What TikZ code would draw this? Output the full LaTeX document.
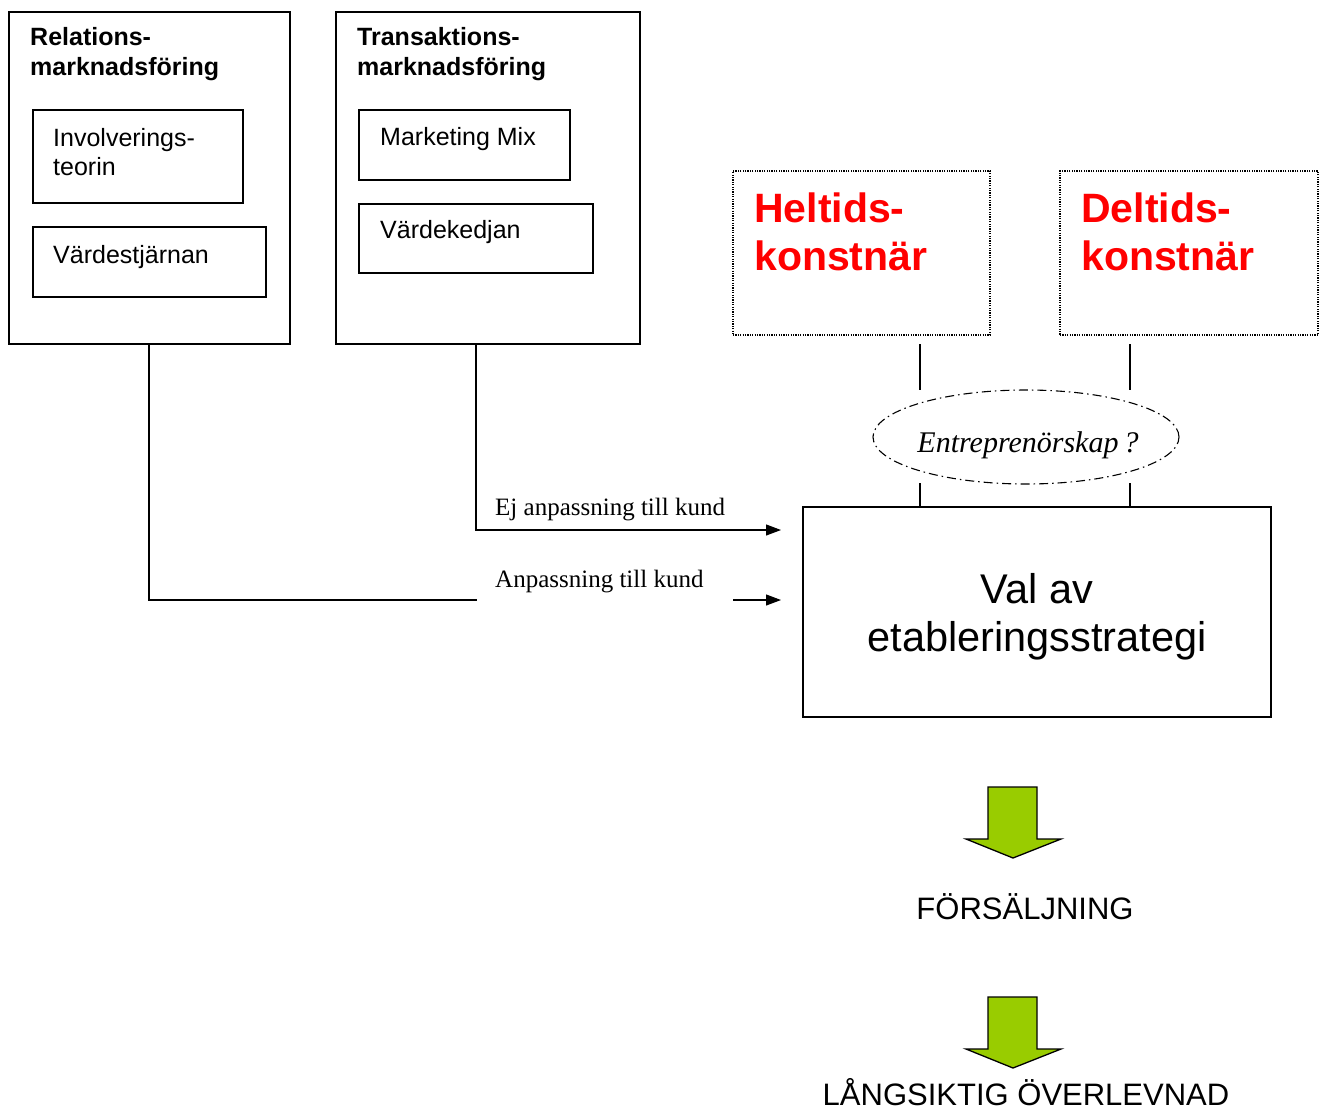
\documentclass[tikz,border=0pt]{standalone}
\usepackage{fontspec}
\setmainfont{Liberation Sans}
\newfontfamily\timesf{Liberation Serif}
\usetikzlibrary{arrows.meta,shapes.geometric,calc}
\definecolor{arrgreen}{HTML}{99CC00}
\begin{document}
\begin{tikzpicture}[x=1pt,y=-1pt,
  box/.style={draw,line width=1.4pt,rectangle,inner sep=0pt},
  dotbox/.style={draw,line width=1.3pt,dash pattern=on 1.2pt off 1.2pt,rectangle,inner sep=0pt},
  tb/.style={anchor=base west,inner sep=0pt,font=\fontsize{25}{30}\selectfont\bfseries,align=left},
  tn/.style={anchor=base west,inner sep=0pt,font=\fontsize{25}{29}\selectfont,align=left},
  tred/.style={anchor=base west,inner sep=0pt,font=\fontsize{41}{48}\selectfont\bfseries,text=red,align=left},
  lbl/.style={anchor=base west,inner sep=0pt,font=\timesf\fontsize{25}{28}\selectfont},
  conn/.style={line width=1.1pt},
  arr/.style={line width=1.1pt,-{Triangle[length=15pt,width=11pt]}},
  garrow/.style={fill=arrgreen,draw=black,line width=1.3pt,line join=miter}
]
\useasboundingbox (0,0) rectangle (1319,1109);
% left group
\node[box,minimum width=281pt,minimum height=332pt] (R) at (149.5,178) {};
\node[tb] (Rt) at (30,75) {Relations-\\marknadsföring};
\node[box,minimum width=210pt,minimum height=93pt] (I) at (138,156.5) {};
\node[tn] (It) at (53,175) {Involverings-\\teorin};
\node[box,minimum width=233pt,minimum height=70pt] (V) at (149.5,262) {};
\node[tn] (Vt) at (53,263) {Värdestjärnan};
% transaction group
\node[box,minimum width=304pt,minimum height=332pt] (T) at (488,178) {};
\node[tb] (Tt) at (357,75) {Transaktions-\\marknadsföring};
\node[box,minimum width=211pt,minimum height=70pt] (M) at (464.5,145) {};
\node[tn] (Mt) at (380,145) {Marketing Mix};
\node[box,minimum width=234pt,minimum height=69pt] (K) at (476,238.5) {};
\node[tn] (Kt) at (380,238) {Värdekedjan};
% artists
\node[dotbox,minimum width=257pt,minimum height=164pt] (H) at (861.5,253) {};
\node[tred] (Ht) at (754,270) {Heltids-\\konstnär};
\node[dotbox,minimum width=258pt,minimum height=164pt] (D) at (1189,253) {};
\node[tred] (Dt) at (1081,270) {Deltids-\\konstnär};
% ellipse
\node[ellipse,draw,line width=1.1pt,dash pattern=on 9pt off 4pt on 1.5pt off 4pt,minimum width=306pt,minimum height=94pt,inner sep=0pt] (E) at (1026,437) {};
\node[anchor=base,inner sep=0pt,font=\timesf\itshape\fontsize{30}{34}\selectfont] (Et) at (1028,452) {Entreprenörskap\,?};
% main box
\node[box,minimum width=468pt,minimum height=210pt] (S) at (1037,612) {};
\node[anchor=center,inner sep=0pt,align=center,font=\fontsize{41.5}{48}\selectfont] (St) at (1037,617) {Val av\\etableringsstrategi};
% vertical segments
\coordinate (h1) at (920,344); \coordinate (h2) at (920,390);
\coordinate (h3) at (920,483); \coordinate (h4) at (920,507);
\coordinate (d1) at (1130,344); \coordinate (d2) at (1130,390);
\coordinate (d3) at (1130,483); \coordinate (d4) at (1130,507);
\draw[conn] (h1) -- (h2); \draw[conn] (h3) -- (h4);
\draw[conn] (d1) -- (d2); \draw[conn] (d3) -- (d4);
% connectors
\coordinate (t1) at (476,530); \coordinate (e1) at (781,530);
\coordinate (r1) at (149,600); \coordinate (e2) at (781,600);
\draw[arr] (T.south -| t1) |- (e1);
\draw[arr] (R.south -| r1) |- (e2);
\fill[white] (477,596) rectangle (733,604);
\node[lbl] (L1) at (495,515) {Ej anpassning till kund};
\node[lbl] (L2) at (495,587) {Anpassning till kund};
% green arrows
\draw[garrow] (988,787) -- (1037,787) -- (1037,839) -- (1061,839) -- (1013,858) -- (966,839) -- (988,839) -- cycle;
\node[anchor=base,inner sep=0pt,font=\fontsize{31}{36}\selectfont] (F) at (1025,919) {FÖRSÄLJNING};
\draw[garrow] (988,997) -- (1037,997) -- (1037,1049) -- (1061,1049) -- (1013,1068) -- (966,1049) -- (988,1049) -- cycle;
\node[anchor=base,inner sep=0pt,font=\fontsize{31}{36}\selectfont] (O) at (1026,1105) {LÅNGSIKTIG ÖVERLEVNAD};
\end{tikzpicture}
\end{document}
